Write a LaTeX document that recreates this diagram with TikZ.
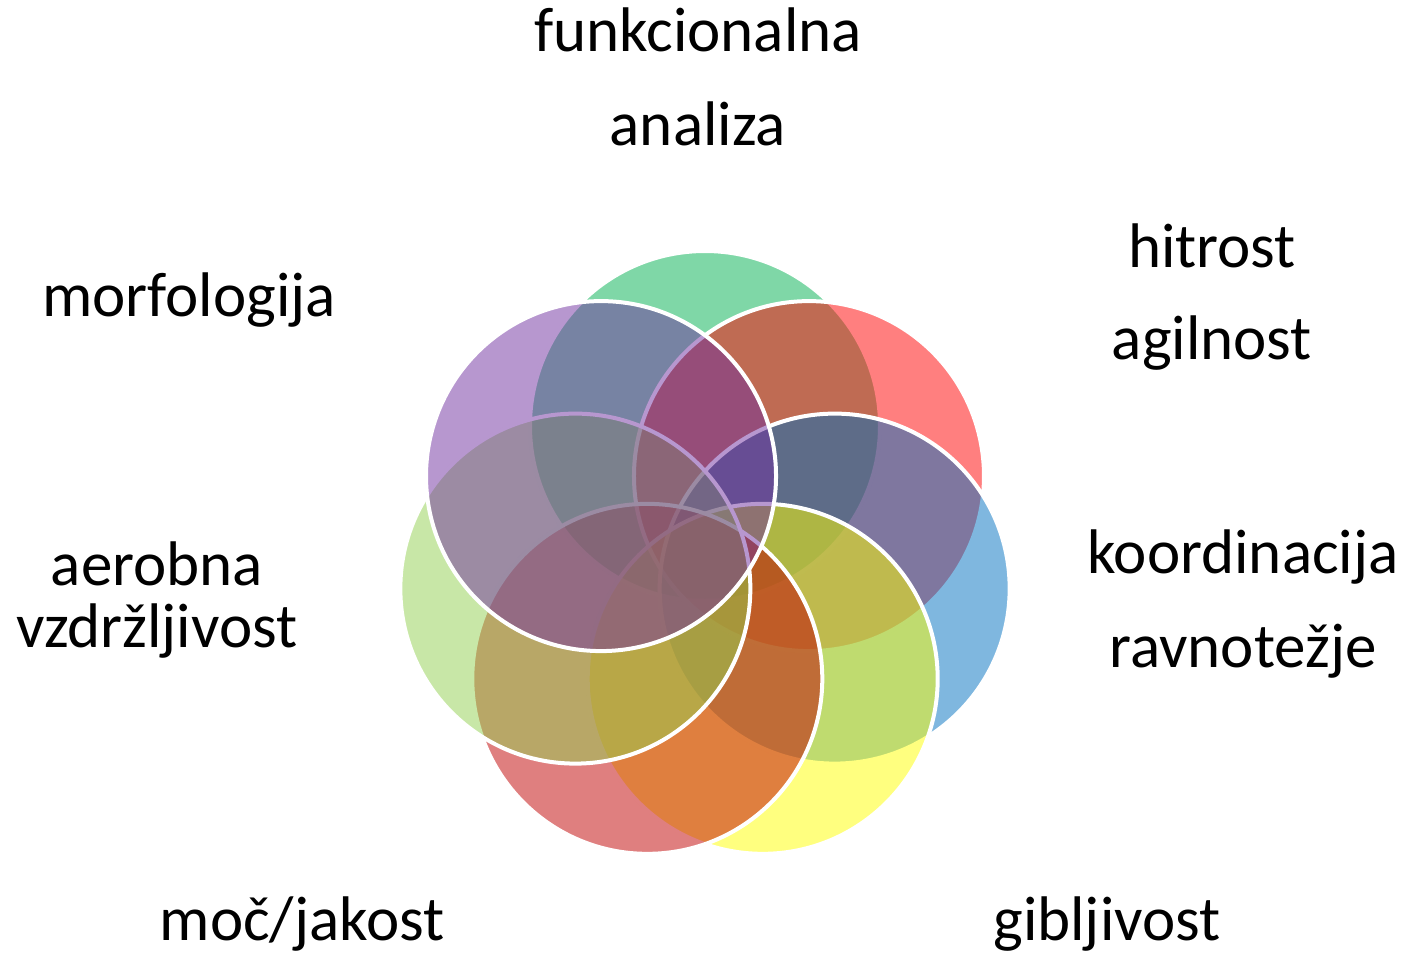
\documentclass[tikz,border=0pt]{standalone}
\usepackage{fontspec}
\setmainfont{Carlito}
\usepackage{tikz}
\usetikzlibrary{positioning,calc}
\definecolor{cgreen}{RGB}{0,176,80}
\definecolor{cred}{RGB}{255,0,0}
\definecolor{cblue}{RGB}{0,112,192}
\definecolor{cyellow}{RGB}{255,255,0}
\definecolor{cdarkred}{RGB}{192,0,0}
\definecolor{clgreen}{RGB}{146,208,80}
\definecolor{cpurple}{RGB}{112,48,160}
\tikzset{
  ring/.style={circle, minimum size=175pt, inner sep=0pt, draw=white, line width=2pt, fill opacity=0.5},
  lbl/.style={font=\fontsize{31.5}{47}\selectfont, align=center, anchor=base, text=black},
}
\begin{document}
\begin{tikzpicture}[x=0.5pt,y=-0.5pt]
\useasboundingbox (0,0) rectangle (1409,966);
\coordinate (mid) at (705,559);
% seven overlapping rings, clockwise from the top
\foreach \col [count=\i from 0] in {cgreen,cred,cblue,cyellow,cdarkred,clgreen,cpurple}
  \node[ring, fill=\col] (c\i) at ($(mid)+(-90+\i*360/7:133)$) {};
% labels (base = last line)
\node[lbl] (funk) at (698,145) {funkcionalna\\analiza};
\node[lbl, font=\fontsize{31.5}{46}\selectfont] (hitr) at (1212,359) {hitrost\\agilnost};
\node[lbl] (morf) at (189,316) {morfologija};
\node[lbl] (koord) at (1243,667) {koordinacija\\ravnotežje};
\node[lbl, font=\fontsize{31.5}{31}\selectfont] (aerob) at (157,647) {aerobna\\vzdržljivost};
\node[lbl] (moc) at (302,940) {moč/jakost};
\node[lbl] (gibl) at (1107,940) {gibljivost};
\end{tikzpicture}
\end{document}
